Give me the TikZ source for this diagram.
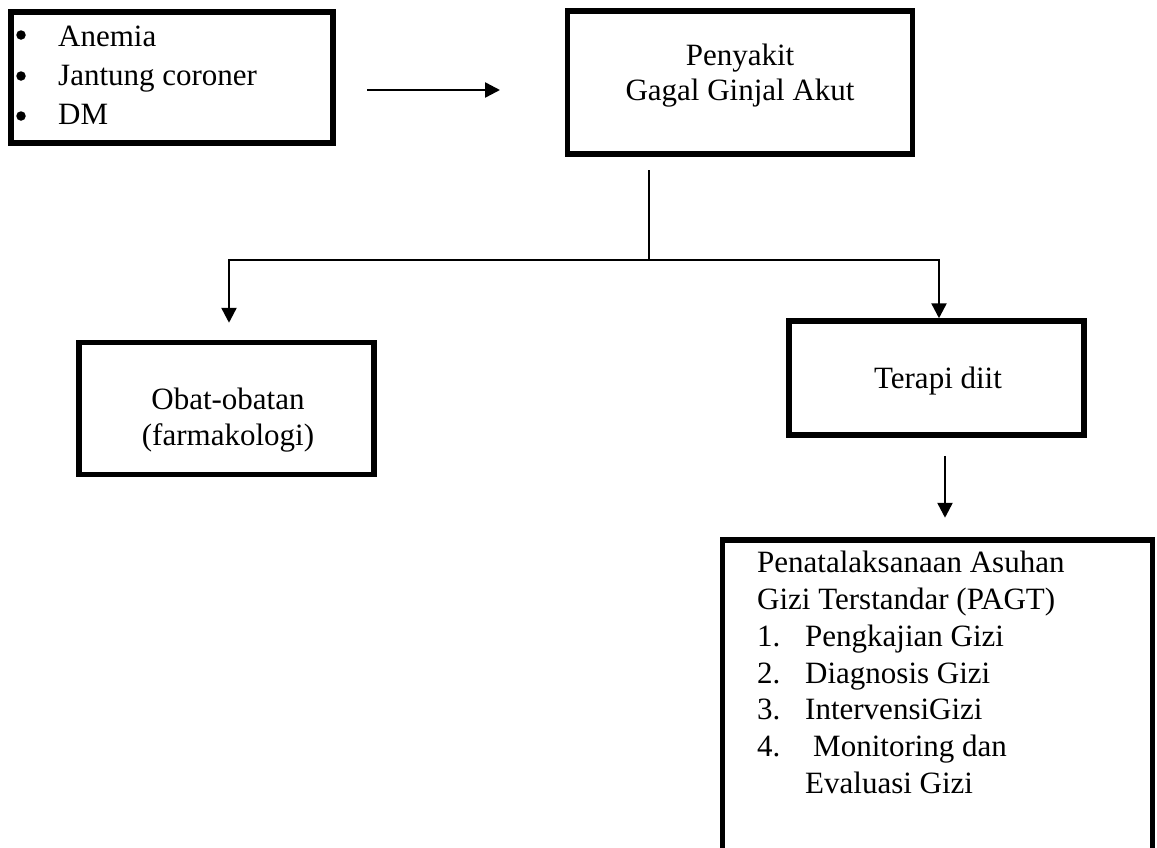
\documentclass[tikz,border=0pt]{standalone}
\usepackage{fontspec}
\setmainfont{Liberation Serif}
\usetikzlibrary{arrows.meta}
\begin{document}
\begin{tikzpicture}[x=1pt,y=-1pt,
  box/.style={draw, line width=5.5pt, rectangle, inner sep=0pt},
  conn/.style={line width=2.5pt},
  arr/.style={conn, -{Triangle[length=15pt,width=15pt]}},
  txt/.style={inner sep=0pt, font=\fontsize{31}{37}\selectfont},
  bul/.style={circle, fill, inner sep=0pt, minimum size=9.5pt}]
\useasboundingbox (0,0) rectangle (1157,847);
\clip (0,0) rectangle (1157,847);
% boxes
\node[box, minimum width=322pt, minimum height=131pt] (box1) at (172,77.5) {};
\node[box, minimum width=345pt, minimum height=143pt] (box2) at (740,82.5) {};
\node[box, minimum width=295pt, minimum height=132pt] (box3) at (226.5,408.5) {};
\node[box, minimum width=295pt, minimum height=114pt] (box4) at (936.5,378) {};
\node[box, minimum width=430pt, minimum height=340pt] (box5) at (937.5,710) {};
% box 1 text
\node[bul] (b1) at (21,35) {};
\node[bul] (b2) at (21,76) {};
\node[bul] (b3) at (21,116) {};
\node[txt, anchor=base west] (t1a) at (58,46) {Anemia};
\node[txt, anchor=base west] (t1b) at (58,85) {Jantung coroner};
\node[txt, anchor=base west] (t1c) at (58,124) {DM};
% box 2 text
\node[txt, anchor=base] (t2a) at (740,65) {Penyakit};
\node[txt, anchor=base] (t2b) at (740,100) {Gagal Ginjal Akut};
% box 3 text
\node[txt, anchor=base] (t3a) at (228,409) {Obat-obatan};
\node[txt, anchor=base] (t3b) at (228,445) {(farmakologi)};
% box 4 text
\node[txt, anchor=base] (t4) at (938,388) {Terapi diit};
% box 5 text
\node[txt, anchor=base west] (t5a) at (757,572) {Penatalaksanaan Asuhan};
\node[txt, anchor=base west] (t5b) at (757,609) {Gizi Terstandar (PAGT)};
\node[txt, anchor=base west] (n1) at (757,646) {1.};
\node[txt, anchor=base west] (n2) at (757,683) {2.};
\node[txt, anchor=base west] (n3) at (757,719.5) {3.};
\node[txt, anchor=base west] (n4) at (757,756) {4.};
\node[txt, anchor=base west] (i1) at (805,646) {Pengkajian Gizi};
\node[txt, anchor=base west] (i2) at (805,683) {Diagnosis Gizi};
\node[txt, anchor=base west] (i3) at (805,719.5) {IntervensiGizi};
\node[txt, anchor=base west] (i4) at (813,756) {Monitoring dan};
\node[txt, anchor=base west] (i4b) at (805,793) {Evaluasi Gizi};
% connectors
\coordinate (a1s) at (367,90);
\coordinate (a1e) at (500,90);
\draw[arr] (a1s) -- (a1e);
\coordinate (s2) at (649,170);
\coordinate (j) at (649,260);
\coordinate (jl) at (229,260);
\coordinate (jr) at (939,260);
\draw[conn] (s2) -- (j);
\draw[conn, line cap=rect] (jl) -- (jr);
\draw[arr, shorten >=17pt] (jl) -- (box3.north -| jl);
\draw[arr] (jr) -- (box4.north -| jr);
\coordinate (x45) at (945,0);
\draw[arr, shorten <=18pt, shorten >=19.5pt] (box4.south -| x45) -- (box5.north -| x45);
\end{tikzpicture}
\end{document}
